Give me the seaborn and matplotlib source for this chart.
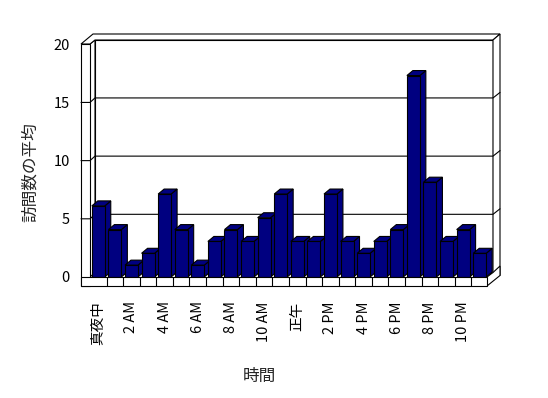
import matplotlib
matplotlib.use('Agg')
import matplotlib.pyplot as plt
import seaborn as sns
import pandas as pd
from matplotlib.patches import Polygon
from matplotlib.lines import Line2D

# ---- data ----
hours = ['真夜中'] + [f'{h} AM' for h in range(1, 12)] + ['正午'] + [f'{h} PM' for h in range(1, 12)]
visits = [6, 4, 1, 2, 7, 4, 1, 3, 4, 3, 5, 7, 3, 3, 7, 3, 2, 3, 4, 17, 8, 3, 4, 2]
y_ticks = [0, 5, 10, 15, 20]
x_title = '時間'
y_title = '訪問数の平均'

sns.set_theme(style='white')
plt.rcParams['font.family'] = ['Noto Sans CJK JP', 'DejaVu Sans']

NAVY = '#000080'
LW = 0.8
W, H = 548, 398
fig = plt.figure(figsize=(W / 100, H / 100), dpi=100, facecolor='white')
AX_L, AX_R, AX_T, AX_B = 90, 488, 40, 277
ax = fig.add_axes([AX_L / W, 1 - AX_B / H, (AX_R - AX_L) / W, (AX_B - AX_T) / H])

df = pd.DataFrame({'hour': hours, 'visits': visits})
sns.barplot(data=df, x='hour', y='visits', color=NAVY, saturation=1,
            edgecolor='black', linewidth=LW, width=0.78, ax=ax)
ax.set_xlim(-0.5, 23.5)
ax.set_ylim(0, 20)
ax.patch.set_visible(False)
for s in ax.spines.values():
    s.set_visible(False)
ax.set_xlabel('')
ax.set_ylabel('')

sx = (AX_R - AX_L) / 24
sy = (AX_B - AX_T) / 20


def X(px):
    return -0.5 + (px - AX_L) / sx


def Y(py):
    return (AX_B - py) / sy


def P(pts):
    return [(X(a), Y(b)) for a, b in pts]


def poly(pts, z, fc='white'):
    ax.add_patch(Polygon(P(pts), closed=True, facecolor=fc, edgecolor='black',
                         linewidth=LW, clip_on=False, zorder=z))


def line(pts, z):
    xs, ys = zip(*P(pts))
    ax.add_line(Line2D(xs, ys, color='black', linewidth=LW, clip_on=False, zorder=z))


# ---- 3D frame (walls + floor) ----
def yb(v):
    return 272.5 - v * 11.6375


def yf(v):
    return yb(v) + 4.5


# back wall inner face
poly([(95, 40), (493, 40), (493, 272.5), (95, 272.5)], 1)
# left wall inner face
poly([(90, 44), (95, 40), (95, 272.5), (90, 277)], 1)
# left wall front face
poly([(81, 44), (90, 44), (90, 286), (81, 286)], 1)
# top strip
poly([(81, 44), (93, 34), (500, 34), (493, 40), (95, 40), (90, 44)], 1)
# right strip of back wall
poly([(493, 40), (500, 34), (500, 275.5), (493, 272.5)], 1)
# floor right side
poly([(487, 277), (493, 272.5), (500, 266), (500, 275.5), (487, 286)], 1)

# gridlines
for v in y_ticks[1:-1]:
    line([(81, yf(v)), (90, yf(v)), (95, yb(v)), (493, yb(v)), (500, yb(v) - 5.5)], 2)

# ---- 3D bars ----
bars = list(ax.patches)[:len(visits)]
ddx = 6 / sx
ddy = 5 / sy
for i, p in enumerate(bars):
    x0, w, h = p.get_x(), p.get_width(), p.get_height()
    p.set_zorder(10 + 2 * i + 1)
    side = [(x0 + w, 0), (x0 + w + ddx, ddy), (x0 + w + ddx, h + ddy), (x0 + w, h)]
    top = [(x0, h), (x0 + ddx, h + ddy), (x0 + w + ddx, h + ddy), (x0 + w, h)]
    for pts in (side, top):
        ax.add_patch(Polygon(pts, closed=True, facecolor=NAVY, edgecolor='black',
                             linewidth=LW, clip_on=False, zorder=10 + 2 * i))

# floor front face with cells
poly([(81, 277), (487, 277), (487, 286), (81, 286)], 80)
for k in range(len(visits) - 1):
    xk = k + 0.5
    ax.add_line(Line2D([xk, xk], [Y(277), Y(286)], color='black', linewidth=LW,
                       clip_on=False, zorder=81))

# ---- ticks & labels ----
ax.set_yticks([Y(yf(v)) for v in y_ticks])
ax.set_yticklabels([str(v) for v in y_ticks])
ax.tick_params(axis='y', length=0, pad=14.5, labelsize=10.5, colors='black')
ax.set_xticks(range(0, len(hours), 2))
ax.set_xticklabels(hours[::2], rotation=90)
ax.tick_params(axis='x', length=0, pad=17.5, labelsize=10.5, colors='black')

fig.text(259 / W, 1 - 376 / H, x_title, ha='center', va='center', fontsize=12)
fig.text(30 / W, 1 - 172 / H, y_title, rotation=90, ha='center', va='center', fontsize=12)

fig.savefig('out.png', dpi=100, facecolor='white')
